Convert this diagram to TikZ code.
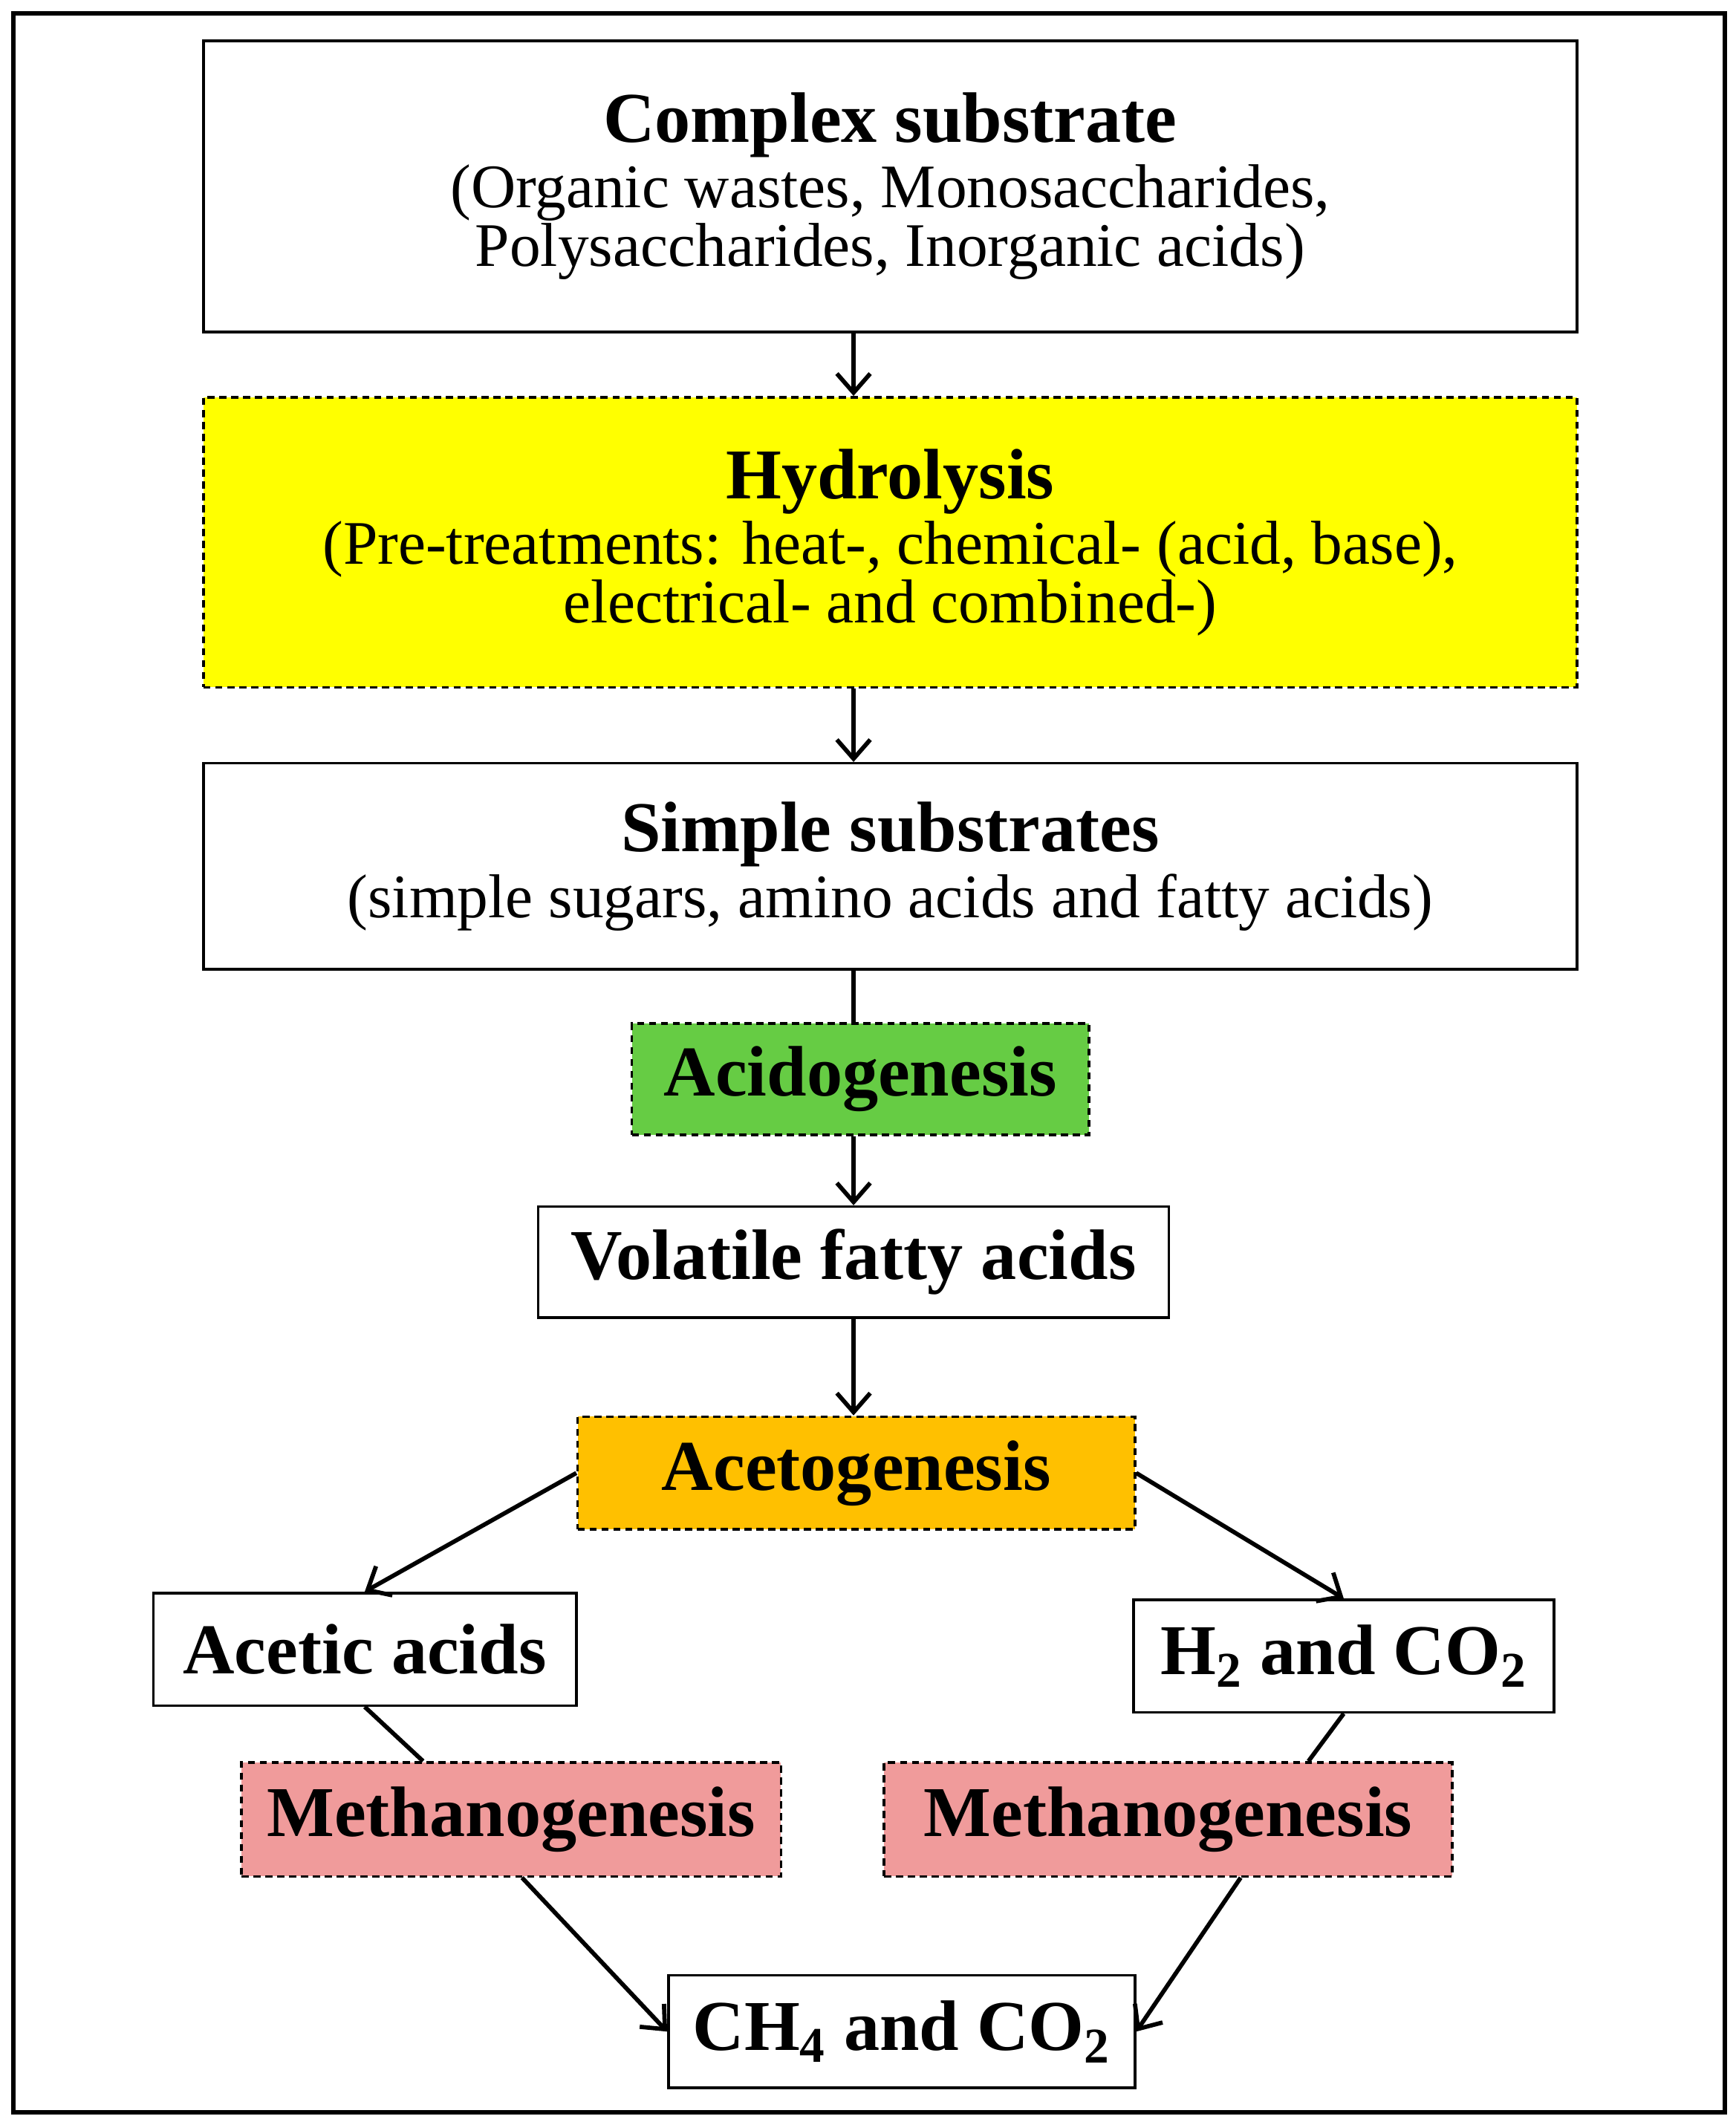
\documentclass[tikz,border=0pt]{standalone}
\usepackage{fontspec}
\setmainfont{Liberation Serif}
\usetikzlibrary{arrows.meta,positioning}
\definecolor{hydroyellow}{RGB}{255,255,0}
\definecolor{acidogreen}{RGB}{102,204,68}
\definecolor{acetoorange}{RGB}{255,192,0}
\definecolor{methpink}{RGB}{240,155,155}
\newcommand{\bigtxt}{\fontsize{30}{36}\selectfont\bfseries}
\newcommand{\smalltxt}{\fontsize{26}{31}\selectfont\mdseries}
\tikzset{
  box/.style={draw, line width=1.1pt, fill=white, align=center, inner sep=0pt},
  stage/.style={box, dashed, dash pattern=on 3pt off 2pt},
  flow/.style={line width=1.8pt, -{Straight Barb[length=8pt,width=14pt,line width=1.8pt]}},
  link/.style={line width=1.8pt},
  big/.style={font=\bigtxt}
}
\begin{document}
\begin{tikzpicture}
        \useasboundingbox (0,0) rectangle (25.6,-31.26);
        % Frame
        \draw [line width=1.8pt] (0.2,-0.2) rectangle (25.44,-31.16);

        % Boxes
        \node [box, minimum width=20.26cm, minimum height=4.3cm] (complex) at (13.13,-2.75)
            {\bigtxt Complex substrate\\[2pt]
             \smalltxt (Organic wastes, Monosaccharides,\\\smalltxt Polysaccharides, Inorganic acids)};
        \node [stage, fill=hydroyellow, minimum width=20.26cm, minimum height=4.28cm] (hydro) at (13.13,-8.0)
            {\bigtxt Hydrolysis\\[2pt]
             \smalltxt (Pre-treatments: heat-, chemical- (acid, base),\\\smalltxt electrical- and combined-)};
        \node [box, minimum width=20.26cm, minimum height=3.04cm] (simple) at (13.13,-12.78)
            {\bigtxt Simple substrates\\[2pt]
             \smalltxt (simple sugars, amino acids and fatty acids)};
        \node [stage, big, fill=acidogreen, minimum width=6.74cm, minimum height=1.64cm] (acido) at (12.69,-15.92) {Acidogenesis};
        \node [box, big, minimum width=9.3cm, minimum height=1.64cm] (vfa) at (12.59,-18.62) {Volatile fatty acids};
        \node [stage, big, fill=acetoorange, minimum width=8.22cm, minimum height=1.66cm] (acetog) at (12.63,-21.73) {Acetogenesis};
        \node [box, big, minimum width=6.24cm, minimum height=1.66cm] (acetic) at (5.38,-24.33) {Acetic acids};
        \node [box, big, minimum width=6.2cm, minimum height=1.66cm] (htwo) at (19.82,-24.43) {H\textsubscript{2} and CO\textsubscript{2}};
        \node [stage, big, fill=methpink, minimum width=7.96cm, minimum height=1.68cm] (methL) at (7.54,-26.84) {Methanogenesis};
        \node [stage, big, fill=methpink, minimum width=8.38cm, minimum height=1.68cm] (methR) at (17.23,-26.84) {Methanogenesis};
        \node [box, big, minimum width=6.88cm, minimum height=1.66cm] (methane) at (13.30,-29.97) {CH\textsubscript{4} and CO\textsubscript{2}};

        % Connectors
        \draw [flow] (complex.south -| vfa) -- (hydro.north -| vfa);
        \draw [flow] (hydro.south -| vfa) -- (simple.north -| vfa);
        \draw [link] (simple.south -| vfa) -- (acido.north -| vfa);
        \draw [flow] (acido.south -| vfa) -- (vfa.north);
        \draw [flow] (vfa.south) -- (acetog.north -| vfa);
        \draw [flow] (acetog.west) -- (acetic.north);
        \draw [flow] (acetog.east) -- (htwo.north);
        \draw [link] (acetic.south) -- ([xshift=-1.3cm]methL.north);
        \draw [link] (htwo.south) -- ([xshift=2.07cm]methR.north);
        \draw [flow] ([xshift=0.16cm]methL.south) -- (methane.west);
        \draw [flow] ([xshift=1.07cm]methR.south) -- (methane.east);
\end{tikzpicture}
\end{document}
